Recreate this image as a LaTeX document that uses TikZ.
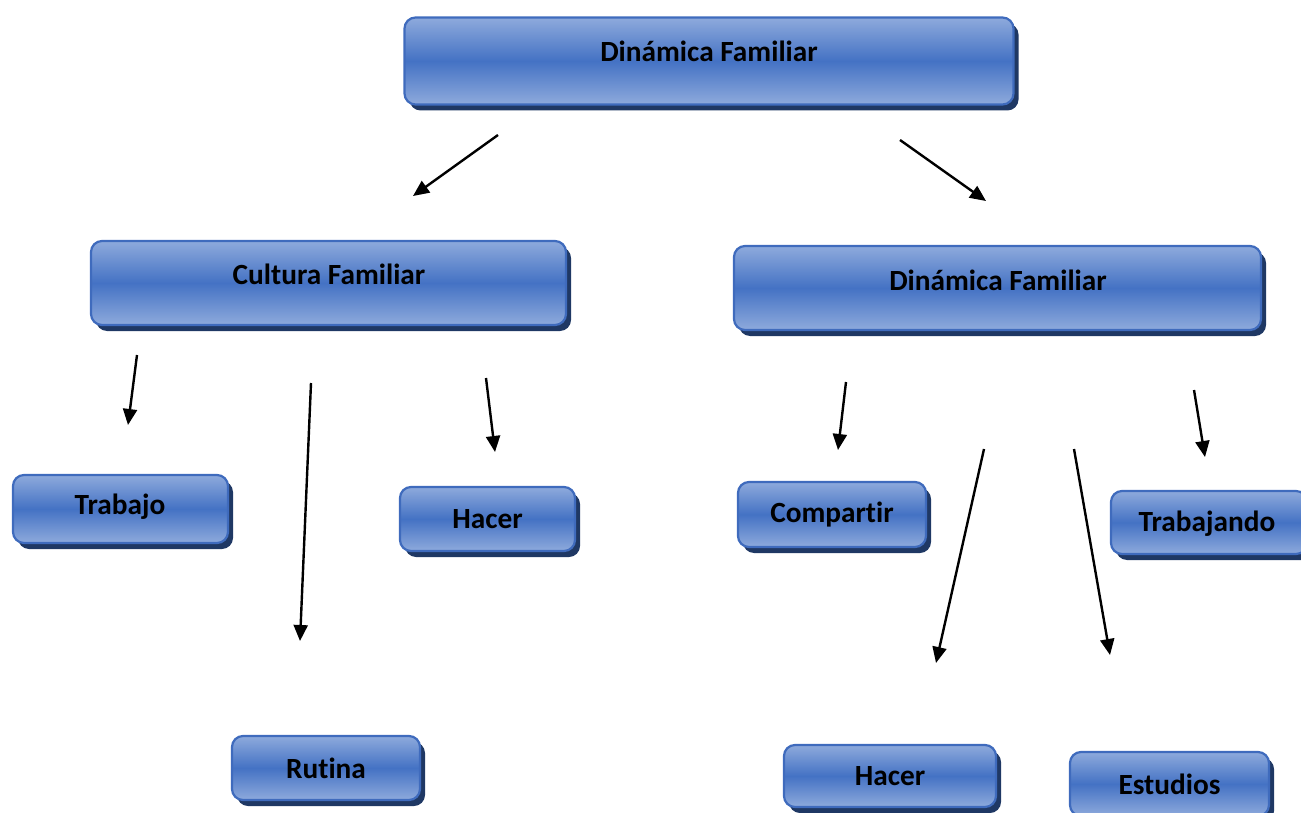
\documentclass[tikz,border=0pt]{standalone}
\usepackage{fontspec}
\setmainfont{Carlito}[Ligatures=NoCommon]
\usetikzlibrary{arrows.meta,shadows}
\definecolor{boxlight}{HTML}{8EAADC}
\definecolor{boxmid}{HTML}{4472C4}
\definecolor{boxborder}{HTML}{3F6BBD}
\definecolor{boxshadow}{HTML}{1F3864}
\tikzset{
  boxfont/.style={font=\fontsize{29.3}{33}\selectfont\bfseries},
  cbox/.style={draw=boxborder, line width=2.2pt, rounded corners=11pt,
    top color=boxlight, bottom color=boxlight, middle color=boxmid,
    inner sep=0pt, boxfont,
    drop shadow={shadow xshift=5pt, shadow yshift=-6pt, fill=boxshadow, opacity=1}},
  conn/.style={line width=2.4pt, -{Triangle[length=16pt,width=14pt]}}
}
\begin{document}
\begin{tikzpicture}[x=1pt,y=-1pt]
\useasboundingbox (0,0) rectangle (1301,813);
% nodes
\node[cbox, minimum width=609pt, minimum height=87pt] (top) at (709,61) {};
\node[boxfont] (topt) at (709,51) {Dinámica Familiar};
\node[cbox, minimum width=475pt, minimum height=84pt] (cult) at (328.5,283) {};
\node[boxfont] (cultt) at (329,274) {Cultura Familiar};
\node[cbox, minimum width=527pt, minimum height=84pt] (din) at (997.5,288) {};
\node[boxfont] (dint) at (998,280) {Dinámica Familiar};
\node[cbox, minimum width=215pt, minimum height=68pt] (trab) at (120.5,509) {};
\node[boxfont] (trabt) at (120,507) {Trabajo};
\node[cbox, minimum width=175pt, minimum height=64pt] (hac1) at (487.5,519) {Hacer};
\node[cbox, minimum width=188pt, minimum height=65pt] (comp) at (832,514.5) {Compartir};
\node[cbox, minimum width=196pt, minimum height=63pt] (trabj) at (1209,522.5) {};
\node[boxfont] (trabjt) at (1207,524) {Trabajando};
\node[cbox, minimum width=188pt, minimum height=64pt] (rut) at (326,768) {Rutina};
\node[cbox, minimum width=212pt, minimum height=62pt] (hac2) at (890,776) {Hacer};
\node[cbox, minimum width=199pt, minimum height=64pt] (est) at (1169.5,784) {Estudios};
% connector endpoints
\coordinate (a1s) at (498,135); \coordinate (a1e) at (413,196);
\coordinate (a2s) at (900,140); \coordinate (a2e) at (986,201);
\coordinate (a3s) at (137,355); \coordinate (a3e) at (128,425);
\coordinate (a4s) at (311,383); \coordinate (a4e) at (300,641);
\coordinate (a5s) at (486,378); \coordinate (a5e) at (495,452);
\coordinate (a6s) at (846,382); \coordinate (a6e) at (838,450);
\coordinate (a7s) at (984,449); \coordinate (a7e) at (936,663);
\coordinate (a8s) at (1074,449); \coordinate (a8e) at (1110,655);
\coordinate (a9s) at (1194,390); \coordinate (a9e) at (1205,457);
\foreach \i in {1,...,9} \draw[conn] (a\i s) -- (a\i e);
\end{tikzpicture}
\end{document}
